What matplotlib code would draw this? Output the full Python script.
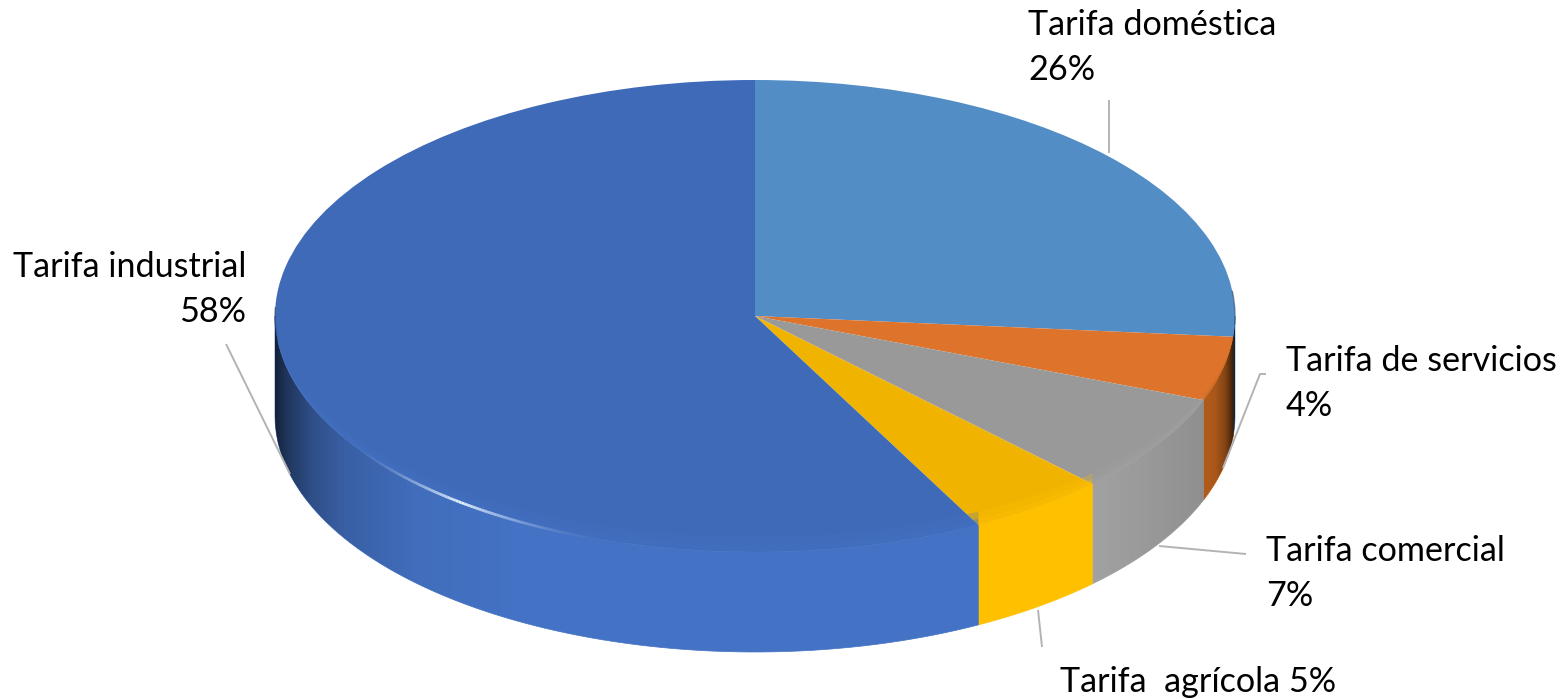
import numpy as np
import matplotlib
matplotlib.use('Agg')
import matplotlib.pyplot as plt
from matplotlib.collections import LineCollection
from matplotlib.patches import PathPatch, Polygon
from matplotlib.path import Path
from matplotlib.transforms import Affine2D

plt.rcParams['font.family'] = ['Lato', 'DejaVu Sans']

# datos (las etiquetas muestran el valor redondeado)
categories = ['Tarifa doméstica', 'Tarifa de servicios', 'Tarifa comercial', 'Tarifa  agrícola', 'Tarifa industrial']
values = [26.4, 4.4, 6.8, 4.7, 57.7]

top_colors = ['#538DC6', '#DE732B', '#999999', '#F0B400', '#3F6AB8']
wall_colors = ['#538DC6', '#C8681F', '#A2A2A2', '#FFC000', '#4472C4']

W, H = 1562, 699
CX, CY = 755, H - 316
RX, RY = 480, 236
DEPTH = 100

shade_x = [275, 285, 310, 345, 420, 520, 1090, 1150, 1205, 1215, 1225, 1236]
shade_alpha = [0.72, 0.55, 0.32, 0.16, 0.04, 0.0, 0.0, 0.06, 0.12, 0.16, 0.35, 0.85]


def ellipse_pts(a1, a2, rx=RX, ry=RY, dy=0, n=80):
    t = np.radians(np.linspace(a1, a2, n))
    return np.column_stack([CX + rx * np.cos(t), CY + dy + ry * np.sin(t)])


fig = plt.figure(figsize=(W / 100, H / 100), dpi=100)
ax = fig.add_axes([0, 0, 1, 1])

# tapa superior: pie normal aplastado con una transformada
wedges, _ = ax.pie(values, colors=top_colors, startangle=90, counterclock=False,
                   radius=1, center=(0, 0), wedgeprops=dict(linewidth=0))
squash = Affine2D().scale(RX, RY).translate(CX, CY) + ax.transData
for w in wedges:
    w.set_transform(squash)
    w.set_zorder(3)
ax.set_aspect('auto')
ax.set_xlim(0, W)
ax.set_ylim(0, H)
ax.axis('off')

# pared lateral, solo la parte frontal de cada porcion
bounds = 90 - np.cumsum([0] + values) * 3.6
for i in range(len(values)):
    a1 = min(bounds[i], 0)
    a2 = max(bounds[i + 1], -180)
    if a2 >= a1:
        continue
    top_arc = ellipse_pts(a1, a2)
    low_arc = ellipse_pts(a2, a1, dy=-DEPTH)
    ax.add_patch(Polygon(np.vstack([top_arc, low_arc]), closed=True,
                         fc=wall_colors[i], ec=wall_colors[i], lw=0.5, zorder=1))
    # banda clara del bisel sobre la tapa, se afina hacia los lados
    for shrink, alpha in [(7, 0.35), (15, 0.25)]:
        inner = ellipse_pts(a2, a1, ry=RY - shrink)
        ax.add_patch(Polygon(np.vstack([top_arc, inner]), closed=True,
                             fc=wall_colors[i], ec='none', alpha=alpha, zorder=4))

# sombreado horizontal de la pared
wall_outline = np.vstack([ellipse_pts(0, -180), ellipse_pts(-180, 0, dy=-DEPTH)])
wall_path = Path(np.vstack([wall_outline, wall_outline[:1]]), closed=True)
xs = np.arange(270, 1240)
grad = np.zeros((1, len(xs), 4))
grad[0, :, 3] = np.interp(xs, shade_x, shade_alpha)
im = ax.imshow(grad, extent=(270, 1240, CY - RY - DEPTH, CY + 10), aspect='auto', zorder=2,
               interpolation='bilinear')
clip = PathPatch(wall_path, transform=ax.transData, fc='none', ec='none')
ax.add_patch(clip)
im.set_clip_path(clip)
ax.set_xlim(0, W)
ax.set_ylim(0, H)

# borde oscuro de los lados
ax.plot(*ellipse_pts(-2, 6, n=20).T, color='#1E3350', lw=1.0, alpha=0.5, zorder=5)
ax.plot(*ellipse_pts(178, 186, n=20).T, color='#1E3350', lw=1.0, alpha=0.5, zorder=5)

# brillo sobre el borde frontal izquierdo
t = np.linspace(207, 258, 120)
pts = np.column_stack([CX + RX * np.cos(np.radians(t)), CY + RY * np.sin(np.radians(t))])
segs = np.stack([pts[:-1], pts[1:]], axis=1)
glow = np.clip(1 - np.abs(t[:-1] - 232) / 20, 0, 1) ** 2
lc = LineCollection(segs, colors=[(0.9, 0.95, 1.0, g) for g in glow], linewidths=2.0, zorder=6)
ax.add_collection(lc)

# lineas guia
leader_lines = [
    ([1109, 1109], [100, 153]),
    ([1266, 1260, 1223], [374, 374, 468]),
    ([1159, 1246], [546, 554]),
    ([1038, 1042], [610, 647]),
    ([226, 290], [344, 474]),
]
for lx, ly in leader_lines:
    ax.plot(lx, [H - y for y in ly], color='#B3B3B3', lw=1.4, zorder=7, solid_capstyle='butt')

# etiquetas
FS = 24.6
LS = 1.5
labels = [f'{c}\n{round(v)}%' for c, v in zip(categories, values)]
ax.text(1028, H - 9, labels[0], fontsize=FS, ha='left', va='top', linespacing=LS, color='black')
ax.text(1286, H - 345, labels[1], fontsize=FS, ha='left', va='top', linespacing=LS, color='black')
ax.text(1266, H - 535, labels[2], fontsize=FS, ha='left', va='top', linespacing=LS, color='black')
ax.text(1060, H - 666, f'{categories[3]} {round(values[3])}%', fontsize=FS, ha='left', va='top', color='black')
ax.text(246, H - 251, labels[4], fontsize=FS, ha='right', va='top', linespacing=LS,
        multialignment='right', color='black')

fig.savefig('out.png', dpi=100)
